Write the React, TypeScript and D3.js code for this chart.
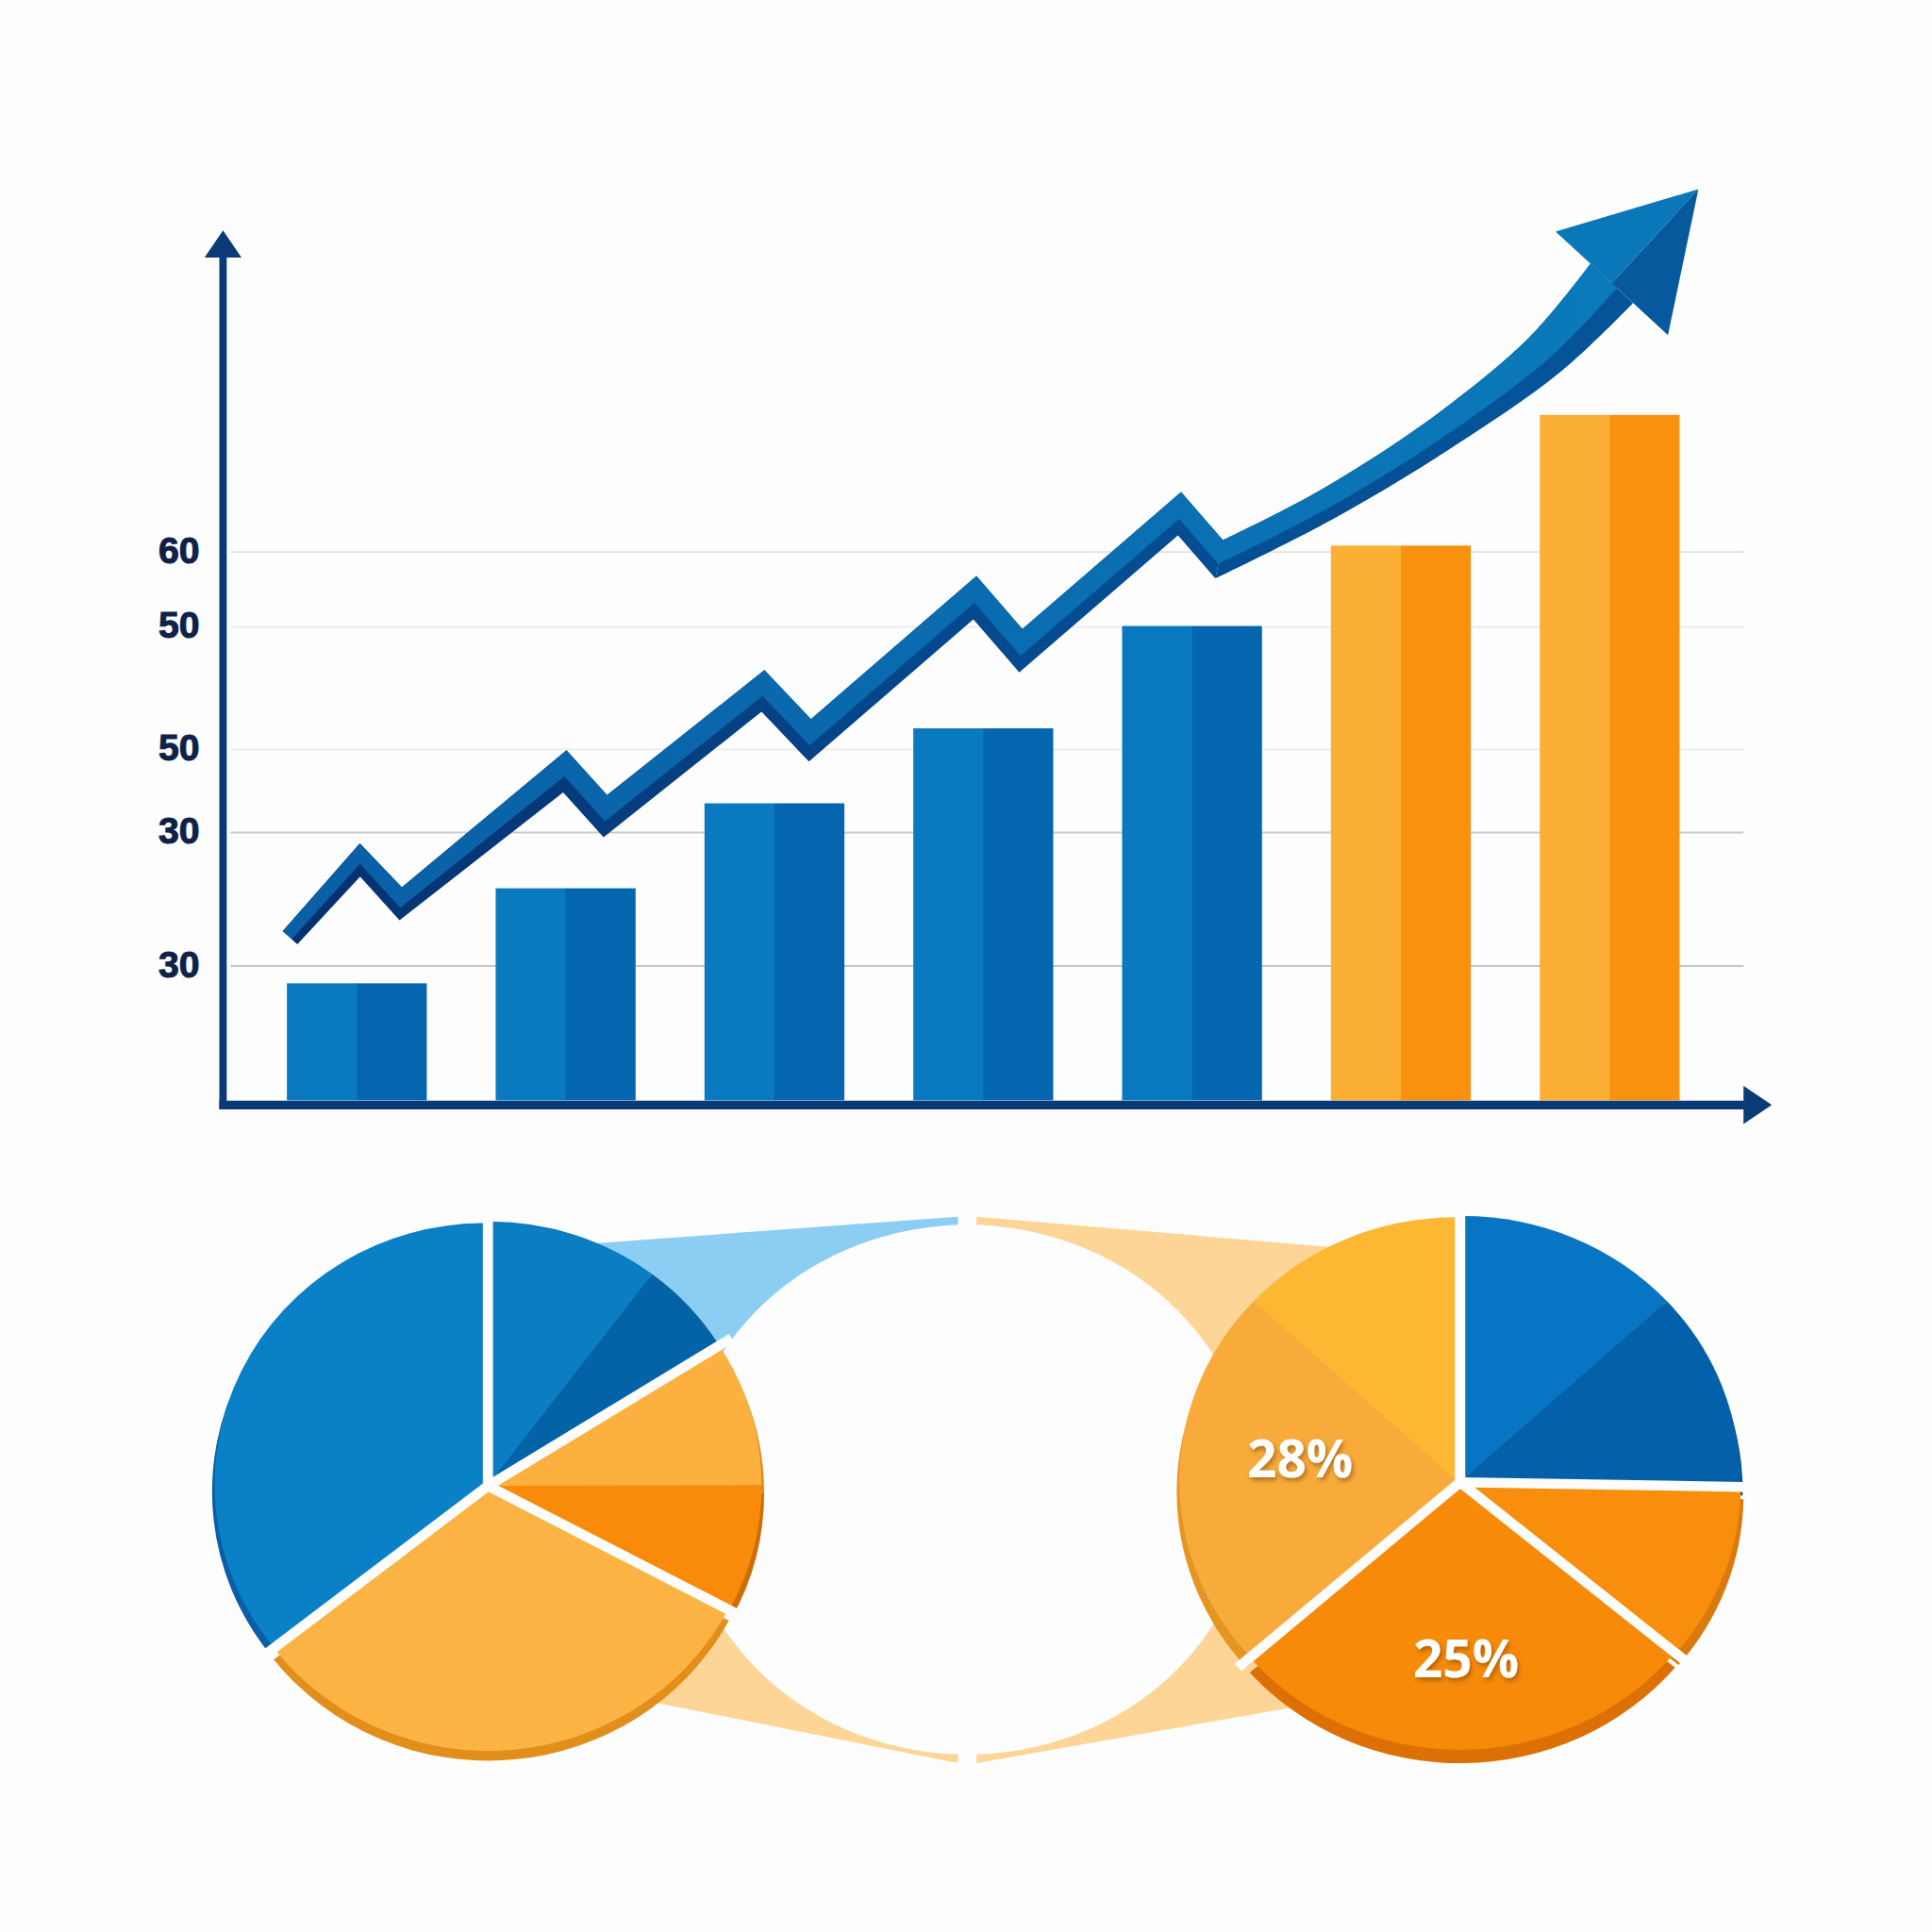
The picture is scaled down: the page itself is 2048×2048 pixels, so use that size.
import { useEffect, useRef } from 'react';
import * as d3 from 'd3';

// ---- bar chart ----
const periods = ['P1', 'P2', 'P3', 'P4', 'P5', 'P6', 'P7'];
const barValues = [12.8, 23.2, 32.5, 40.7, 51.9, 60.7, 75.0];
const barSeries = ['actual', 'actual', 'actual', 'actual', 'actual', 'forecast', 'forecast'];

// grid positions on the value scale, and the labels printed beside them
const tickValues = [14.7, 29.3, 38.4, 51.8, 60];
const tickLabels = ['30', '30', '50', '50', '60'];

// trend arrow: x in bar units (0 = centre of first bar), y on the value scale
const trendX = [-0.32, 0.015, 0.21, 0.996, 1.19, 1.945, 2.17, 2.96, 3.18, 3.94, 4.13, 4.63, 5.155, 5.69, 6.01];
const trendY = [17.8, 26.3, 21.5, 36.0, 31.1, 44.8, 39.4, 55.0, 49.2, 64.2, 59.2, 65.0, 72.4, 81.6, 89.4];
const trendTipX = 6.425;
const trendTipY = 99.7;

// ---- pies (shares in %, slices of one group sit together without a gap) ----
const leftShares = [10.3, 5.8, 8.9, 7.8, 31.7, 35.6];
const leftGroups = [0, 0, 1, 1, 2, 3];
const rightShares = [13.2, 12.1, 10.8, 27.5, 23.4, 13.1];
const rightGroups = [0, 0, 1, 2, 3, 3];
const rightLabels = ['', '', '', '25%', '28%', ''];

// ---- layout / style ----
const VB = 1568;
const BG = '#fdfdfd';
const NAVY = '#0b3b77';
const AXIS_X = 181;
const AXIS_TOP = 205;
const AXIS_Y = 896.8;
const AXIS_END = 1420;
const gridColors = ['#c6c6c6', '#cbcbcb', '#ebebeb', '#ececec', '#e2e2e2'];
const BLUE = ['#0979c0', '#0466ae'];
const ORANGE = ['#fbb035', '#f8920e'];
const EXPLODE = 3;
const rightLabelNudge = [[0, 0], [0, 0], [0, 0], [3, 2], [17, -17], [0, 0]];

const leftPie = {
  cx: 396, cy: 1206, rx: 219, ry: 212, drop: 6,
  fills: ['#0a7dc3', '#0462a6', '#fcb040', '#f98a0a', '#fbb344', '#0a80c6'],
  rims: ['#0a6bb0', '#045596', '#d9891e', '#cc6d06', '#e28e1a', '#0a5ea5'],
};
const rightPie = {
  cx: 1185, cy: 1203, rx: 225, ry: 214, drop: 9,
  fills: ['#0875c4', '#0460a9', '#f88e0c', '#f78b09', '#f8ab3b', '#fcb733'],
  rims: ['#0862aa', '#045596', '#d87a0c', '#dd7004', '#e59622', '#eaa024'],
};
const middle = { cx: 785, cy: 1209, rx: 232, ry: 215, gap: 7.5, top: 987.5, bottom: 1431 };

type PieCfg = typeof leftPie;

function edge(p: PieCfg, deg: number, k: number): [number, number] {
  const a = (deg * Math.PI) / 180;
  return [p.cx + k * p.rx * Math.sin(a), p.cy - k * p.ry * Math.cos(a)];
}

function drawPie(parent: any, p: PieCfg, shares: number[], groups: number[], labels: string[], nudge: number[][]) {
  const arcs = d3.pie<number>().sort(null).value((d) => d)(shares);
  const gids = Array.from(new Set(groups));
  const spans = gids.map((gid) => {
    const mine = arcs.filter((a, i) => groups[i] === gid);
    return { start: d3.min(mine, (a) => a.startAngle)!, end: d3.max(mine, (a) => a.endAngle)! };
  });
  const off = (i: number) => {
    const s = spans[groups[i]];
    const m = (s.start + s.end) / 2;
    return [EXPLODE * Math.sin(m), -EXPLODE * Math.cos(m)];
  };
  const sx = p.rx / p.ry;
  const root = parent.append('g').attr('transform', `translate(${p.cx},${p.cy}) scale(${sx},1)`);
  const face = d3.arc<any>().innerRadius(0).outerRadius(p.ry);
  const rim = d3.arc<any>().innerRadius(0).outerRadius(p.ry + 2);

  root.selectAll('path.rim').data(arcs).join('path')
    .attr('class', 'rim')
    .attr('transform', (d: any, i: number) => `translate(${off(i)[0]},${off(i)[1] + p.drop})`)
    .attr('d', rim)
    .attr('fill', (d: any, i: number) => p.rims[i]);

  root.selectAll('path.face').data(arcs).join('path')
    .attr('class', 'face')
    .attr('transform', (d: any, i: number) => `translate(${off(i)[0]},${off(i)[1]})`)
    .attr('d', face)
    .attr('fill', (d: any, i: number) => p.fills[i]);

  // white gaps between groups
  root.selectAll('line.gap').data(spans).join('line')
    .attr('class', 'gap')
    .attr('x1', 0).attr('y1', 0)
    .attr('x2', (s: any) => (p.ry + 14) * Math.sin(s.start))
    .attr('y2', (s: any) => -(p.ry + 14) * Math.cos(s.start))
    .attr('stroke', BG)
    .attr('stroke-width', 8);

  const la = d3.arc<any>().innerRadius(p.ry * 0.64).outerRadius(p.ry * 0.64);
  labels.forEach((t, i) => {
    if (!t) return;
    const c = la.centroid(arcs[i]);
    const o = off(i);
    parent.append('text')
      .attr('x', p.cx + (c[0] + o[0]) * sx + nudge[i][0])
      .attr('y', p.cy + c[1] + o[1] + nudge[i][1])
      .attr('text-anchor', 'middle')
      .attr('dominant-baseline', 'central')
      .attr('font-family', '"Open Sans", "Noto Sans", sans-serif')
      .attr('font-weight', 700)
      .attr('font-size', 42)
      .attr('fill', '#ffffff')
      .attr('filter', 'url(#lblShadow)')
      .text(t);
  });
}

export default function App() {
  const svgRef = useRef<SVGSVGElement>(null);

  useEffect(() => {
    if (!svgRef.current) return;
    const svg = d3.select(svgRef.current);
    svg.selectAll('*').remove();
    const defs = svg.append('defs');

    const grad = (id: string, stops: [number, string][]) => {
      const g = defs.append('linearGradient').attr('id', id)
        .attr('gradientUnits', 'userSpaceOnUse')
        .attr('x1', 230).attr('y1', 0).attr('x2', 1380).attr('y2', 0);
      stops.forEach(([o, c]) => g.append('stop').attr('offset', o).attr('stop-color', c));
    };
    grad('ribDark', [[0, '#05306d'], [0.5, '#054a8f'], [1, '#05569b']]);
    grad('ribLight', [[0, '#0a5fa5'], [0.5, '#0a6cb0'], [1, '#0b7cbb']]);
    const f = defs.append('filter').attr('id', 'lblShadow').attr('x', '-20%').attr('y', '-30%').attr('width', '140%').attr('height', '160%');
    f.append('feDropShadow').attr('dx', 1.5).attr('dy', 2.5).attr('stdDeviation', 2)
      .attr('flood-color', '#7a4100').attr('flood-opacity', 0.55);

    svg.append('rect').attr('width', VB).attr('height', VB).attr('fill', BG);

    // scales
    const x = d3.scaleBand().domain(periods).range([182, 1414]).paddingInner(0.33).paddingOuter(0.3);
    const y = d3.scaleLinear().domain([0, 60]).range([893, 448]);
    const bw = x.bandwidth();
    const tx = d3.scaleLinear()
      .domain([0, periods.length - 1])
      .range([x(periods[0])! + bw / 2, x(periods[periods.length - 1])! + bw / 2]);

    // Grid
    svg.append('g').selectAll('line').data(tickValues).join('line')
      .attr('x1', AXIS_X + 6).attr('x2', AXIS_END - 5)
      .attr('y1', (d) => y(d)).attr('y2', (d) => y(d))
      .attr('stroke', (d, i) => gridColors[i])
      .attr('stroke-width', 1.4);

    svg.append('g').selectAll('text').data(tickValues).join('text')
      .attr('x', AXIS_X - 19)
      .attr('y', (d) => y(d) - 1.5)
      .attr('text-anchor', 'end')
      .attr('dominant-baseline', 'central')
      .attr('font-family', '"Liberation Sans", Arial, sans-serif')
      .attr('font-weight', 700)
      .attr('font-size', 30)
      .attr('fill', '#0e2149')
      .attr('stroke', '#0e2149')
      .attr('stroke-width', 0.8)
      .text((d, i) => tickLabels[i]);

    // Bars (two-tone)
    const bars = svg.append('g');
    [0, 1].forEach((half) => {
      bars.selectAll(`rect.h${half}`).data(barValues).join('rect')
        .attr('class', `h${half}`)
        .attr('x', (d, i) => x(periods[i])! + (half * bw) / 2)
        .attr('y', (d) => y(d))
        .attr('width', bw / 2 + (half ? 0 : 0.5))
        .attr('height', (d) => y(0) - y(d))
        .attr('fill', (d, i) => (barSeries[i] === 'actual' ? BLUE : ORANGE)[half]);
    });

    // Trend ribbon
    const pts = trendX.map((v, i) => [tx(v), y(trendY[i])]);
    const tip = [tx(trendTipX), y(trendTipY)];
    const n = pts.length;
    const kink = 10; // last zig-zag vertex, the smooth tail starts here
    const widths = pts.map((p, i) => {
      if (i > kink) return 25 + 22 * Math.pow((p[0] - pts[kink][0]) / (pts[n - 1][0] - pts[kink][0]), 3);
      const t = Math.min(1, (p[0] - pts[0][0]) / (pts[3][0] - pts[0][0]));
      return 16 + 9 * t;
    });
    const segN = (a: number[], b: number[]) => {
      const dx = b[0] - a[0], dy = b[1] - a[1];
      const l = Math.hypot(dx, dy);
      return [dy / l, -dx / l];
    };
    const miters = pts.map((p, i) => {
      if (i === 0) return segN(pts[0], pts[1]);
      if (i === n - 1) return segN(p, tip);
      const n1 = segN(pts[i - 1], p), n2 = segN(p, pts[i + 1]);
      let mx = n1[0] + n2[0], my = n1[1] + n2[1];
      const l = Math.hypot(mx, my);
      mx /= l; my /= l;
      const s = 1 / (mx * n1[0] + my * n1[1]);
      return [mx * s, my * s];
    });
    const off = (i: number, k: number) => [pts[i][0] + miters[i][0] * k * widths[i], pts[i][1] + miters[i][1] * k * widths[i]];
    const band = (lo: number, hi: number, curve: any) => d3.area<number>()
      .x0((i) => off(i, lo)[0]).y0((i) => off(i, lo)[1])
      .x1((i) => off(i, hi)[0]).y1((i) => off(i, hi)[1])
      .curve(curve);
    const parts: [number[], any][] = [[d3.range(0, kink + 1), d3.curveLinear], [d3.range(kink, n), d3.curveCatmullRom]];
    const rib = svg.append('g');
    parts.forEach(([idx, curve]) => rib.append('path').attr('d', band(-0.5, 0.5, curve)(idx)).attr('fill', 'url(#ribDark)'));
    parts.forEach(([idx, curve]) => rib.append('path').attr('d', band(-0.12, 0.5, curve)(idx)).attr('fill', 'url(#ribLight)'));

    const end = pts[n - 1];
    const ux = tip[0] - end[0], uy = tip[1] - end[1];
    const ul = Math.hypot(ux, uy);
    const nx = uy / ul, ny = -ux / ul;
    const half = 62;
    const barbL = [end[0] + nx * half, end[1] + ny * half];
    const barbR = [end[0] - nx * half, end[1] - ny * half];
    rib.append('path').attr('d', d3.line()([tip, barbL, end] as any) + 'Z').attr('fill', '#0a78b8');
    rib.append('path').attr('d', d3.line()([tip, end, barbR] as any) + 'Z').attr('fill', '#05599c');

    // Axes
    const ax = svg.append('g').attr('fill', NAVY);
    ax.append('line').attr('x1', AXIS_X).attr('x2', AXIS_X).attr('y1', AXIS_TOP).attr('y2', AXIS_Y + 3.5)
      .attr('stroke', NAVY).attr('stroke-width', 6);
    ax.append('path').attr('d', `M${AXIS_X},${AXIS_TOP - 18} L${AXIS_X - 15},${AXIS_TOP + 4} L${AXIS_X + 15},${AXIS_TOP + 4} Z`);
    ax.append('line').attr('x1', AXIS_X - 3).attr('x2', AXIS_END).attr('y1', AXIS_Y).attr('y2', AXIS_Y)
      .attr('stroke', NAVY).attr('stroke-width', 7);
    ax.append('path').attr('d', `M${AXIS_END - 5},${AXIS_Y - 15.5} L${AXIS_END + 18},${AXIS_Y} L${AXIS_END - 5},${AXIS_Y + 15.5} Z`);

    // Connector bands between the pies
    const gL = middle.cx - middle.gap, gR = middle.cx + middle.gap;
    const bandsData: { pts: [number, number][]; fill: string }[] = [
      { pts: [edge(leftPie, 22, 1.0), [gL, middle.top], [gL, middle.cy], edge(leftPie, 40, 0.5)], fill: '#8ccef3' },
      { pts: [edge(leftPie, 143.5, 1.03), [gL, middle.bottom], [gL, middle.cy], edge(leftPie, 130, 0.5)], fill: '#fdd597' },
      { pts: [edge(rightPie, 333, 1.0), [gR, middle.top], [gR, middle.cy], edge(rightPie, 300, 0.5)], fill: '#fdd597' },
      { pts: [edge(rightPie, 215, 1.04), [gR, middle.bottom], [gR, middle.cy], edge(rightPie, 235, 0.5)], fill: '#fdd597' },
    ];
    svg.append('g').selectAll('path').data(bandsData).join('path')
      .attr('d', (d) => d3.line()(d.pts) + 'Z')
      .attr('fill', (d) => d.fill);
    svg.append('ellipse')
      .attr('cx', middle.cx).attr('cy', middle.cy)
      .attr('rx', middle.rx).attr('ry', middle.ry)
      .attr('fill', BG);

    const pies = svg.append('g');
    drawPie(pies, leftPie, leftShares, leftGroups, leftShares.map(() => ''), rightLabelNudge);
    drawPie(pies, rightPie, rightShares, rightGroups, rightLabels, rightLabelNudge);
  }, []);

  return (
    <svg
      ref={svgRef}
      width={2048}
      height={2048}
      viewBox={`0 0 ${VB} ${VB}`}
      style={{ position: 'absolute', left: 0, top: 0, display: 'block' }}
    />
  );
}
